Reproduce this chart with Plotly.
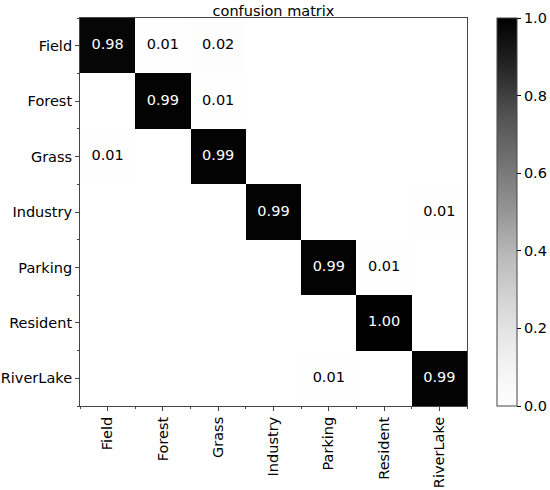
import plotly.graph_objects as go

classes = ['Field', 'Forest', 'Grass', 'Industry', 'Parking', 'Resident', 'RiverLake']

# rows = true class, cols = predicted class (normalised)
cm_field = [0.98, 0.01, 0.02, 0.004, 0.0, 0.0, 0.0]
cm_forest = [0.0, 0.99, 0.01, 0.0, 0.0, 0.0, 0.0]
cm_grass = [0.01, 0.0, 0.99, 0.0, 0.0, 0.004, 0.0]
cm_industry = [0.0, 0.0, 0.0, 0.99, 0.0, 0.0, 0.01]
cm_parking = [0.0, 0.0, 0.0, 0.0, 0.99, 0.01, 0.0]
cm_resident = [0.0, 0.0, 0.0, 0.0, 0.0, 1.00, 0.0]
cm_riverlake = [0.0, 0.0, 0.0, 0.0, 0.01, 0.0, 0.99]

cm = [cm_field, cm_forest, cm_grass, cm_industry, cm_parking, cm_resident, cm_riverlake]

idx = list(range(len(classes)))

# text labels: only cells that round to something non-zero, white on dark cells
tx, ty, tt, tc = [], [], [], []
for i, row in enumerate(cm):
    for j, v in enumerate(row):
        if round(v, 2) > 0:
            tx.append(j)
            ty.append(i)
            tt.append(f'{v:.2f}')
            tc.append('white' if v > 0.5 else 'black')

greys = [[0.0, '#ffffff'], [0.125, '#f0f0f0'], [0.25, '#d9d9d9'], [0.375, '#bdbdbd'],
         [0.5, '#969696'], [0.625, '#737373'], [0.75, '#525252'], [0.875, '#252525'],
         [1.0, '#000000']]

FONT = 'DejaVu Sans'
FS = 14.5

fig = go.Figure()
fig.add_trace(go.Heatmap(
    z=cm, x=idx, y=idx,
    colorscale=greys, zmin=0, zmax=1,
    hoverinfo='skip',
    colorbar=dict(
        x=1.0775, xanchor='left', xref='paper', xpad=0,
        y=0, yanchor='bottom', len=1, lenmode='fraction', ypad=0,
        thickness=20, thicknessmode='pixels',
        outlinecolor='#444444', outlinewidth=1,
        tickvals=[0, 0.2, 0.4, 0.6, 0.8, 1.0], ticktext=['0.0', '0.2', '0.4', '0.6', '0.8', '1.0'],
        ticks='outside', ticklen=4, tickcolor='black',
        tickfont=dict(family=FONT, size=FS, color='black'),
    ),
))
fig.add_trace(go.Scatter(
    x=tx, y=ty, text=tt, mode='text',
    textfont=dict(family=FONT, size=FS, color=tc),
    showlegend=False, hoverinfo='skip',
))

axis_common = dict(
    showgrid=False, zeroline=False, automargin=False,
    showline=True, linecolor='#444444', linewidth=1, mirror=True,
    ticks='outside', ticklen=4, tickcolor='#444444',
    tickmode='array', tickvals=idx, ticktext=classes,
    tickfont=dict(family=FONT, size=FS, color='black'),
    minor=dict(ticks='outside', ticklen=2, tickcolor='#444444', tick0=0.5, dtick=1),
)

fig.update_xaxes(**axis_common, tickangle=-90, range=[-0.5, len(classes) - 0.5])
fig.update_yaxes(**axis_common, range=[len(classes) - 0.5, -0.5])

fig.update_layout(
    width=550, height=490,
    margin=dict(l=80, r=83, t=18, b=84, autoexpand=False),
    paper_bgcolor='white', plot_bgcolor='white',
    title=dict(text='confusion matrix', x=0.5, xref='paper', xanchor='center',
               y=1 - 11 / 490, yref='container', yanchor='middle',
               font=dict(family=FONT, size=FS, color='black')),
    font=dict(family=FONT, color='black'),
)

# page has a default 8px body margin; drop it so the figure sits at the window corner
fig.write_html('out.html', config={'displayModeBar': False},
               post_script="document.body.style.margin='0';")
